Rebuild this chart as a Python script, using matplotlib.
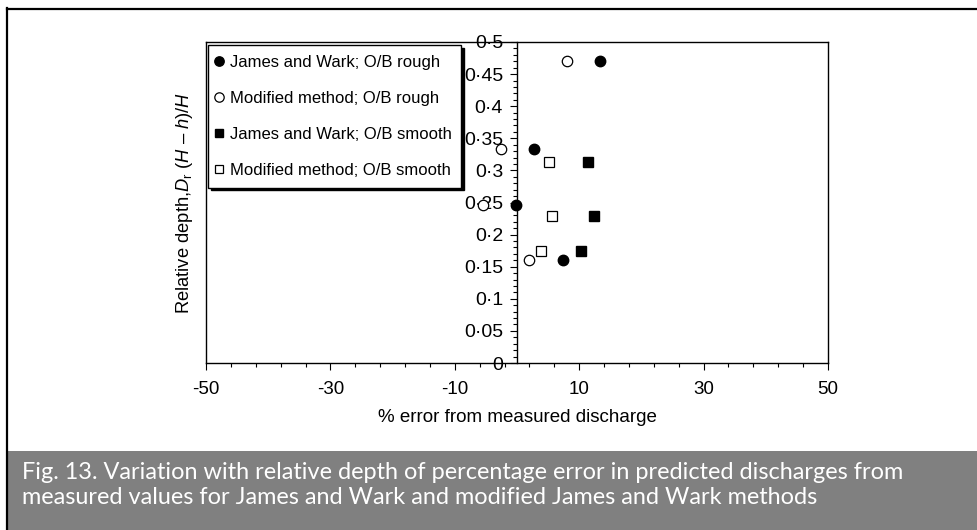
from __future__ import annotations

import matplotlib

matplotlib.use("Agg")

import matplotlib.pyplot as plt
from matplotlib.patches import Rectangle
from matplotlib.ticker import FixedLocator, MultipleLocator

# data
jw_rough_x = [13.4, 2.8, -0.2, 7.4]
jw_rough_y = [0.470, 0.333, 0.246, 0.161]
mod_rough_x = [8.0, -2.5, -5.4, 2.0]
mod_rough_y = [0.470, 0.333, 0.246, 0.161]
jw_smooth_x = [11.4, 12.3, 10.3]
jw_smooth_y = [0.313, 0.229, 0.175]
mod_smooth_x = [5.1, 5.7, 3.9]
mod_smooth_y = [0.313, 0.229, 0.175]

x_ticks = [-50, -30, -10, 10, 30, 50]
x_tick_labels = ["-50", "-30", "-10", "10", "30", "50"]
y_ticks = [0, 0.05, 0.1, 0.15, 0.2, 0.25, 0.3, 0.35, 0.4, 0.45, 0.5]
y_tick_labels = ["0", "0·05", "0·1", "0·15", "0·2", "0·25", "0·3", "0·35",
                 "0·4", "0·45", "0·5"]

caption = ("Fig. 13. Variation with relative depth of percentage error in predicted discharges from\n"
           "measured values for James and Wark and modified James and Wark methods")

plt.rcParams["font.family"] = ["Liberation Sans", "DejaVu Sans"]
plt.rcParams["mathtext.fontset"] = "custom"
plt.rcParams["mathtext.rm"] = "Liberation Sans"
plt.rcParams["mathtext.it"] = "Liberation Sans:italic"

W, H = 977, 530
fig = plt.figure(figsize=(W / 100, H / 100), dpi=100)

# frame lines of the page (left and top only) and caption band
fig.add_artist(plt.Line2D([7 / W, 7 / W], [0, 1 - 8 / H], color="black", lw=1.6,
                          transform=fig.transFigure))
fig.add_artist(plt.Line2D([7 / W, 1], [1 - 9 / H, 1 - 9 / H], color="black", lw=1.6,
                          transform=fig.transFigure))
fig.add_artist(Rectangle((8 / W, 0), 1, 79 / H, transform=fig.transFigure,
                         facecolor="#808080", edgecolor="none"))
fig.text(22 / W, 1 - 462 / H, caption, color="white", fontsize=16.9,
         family=["Lato", "DejaVu Sans"], va="top", ha="left", linespacing=1.23)

ax = fig.add_axes([206 / W, 1 - 363 / H, 622 / W, 321 / H])

ms = 7.5
ax.plot(jw_rough_x, jw_rough_y, "o", color="black", ms=ms, mec="black",
        label="James and Wark; O/B rough", clip_on=False, zorder=3)
ax.plot(mod_rough_x, mod_rough_y, "o", mfc="white", mec="black", mew=0.9, ms=ms,
        label="Modified method; O/B rough", clip_on=False, zorder=3)
ax.plot(jw_smooth_x, jw_smooth_y, "s", color="black", ms=ms - 0.5,
        label="James and Wark; O/B smooth", clip_on=False, zorder=3)
ax.plot(mod_smooth_x, mod_smooth_y, "s", mfc="white", mec="black", mew=0.9, ms=ms - 0.5,
        label="Modified method; O/B smooth", clip_on=False, zorder=3)

ax.set_xlim(-50, 50)
ax.set_ylim(0, 0.5)

# y axis line sits at x = 0, the box keeps its left edge at -50
ax.spines["left"].set_position(("data", 0))
ax.axvline(-50, color="black", lw=1.0, clip_on=False)
for side in ("top", "right", "bottom", "left"):
    ax.spines[side].set_linewidth(1.0)

ax.xaxis.set_major_locator(FixedLocator(x_ticks))
ax.set_xticklabels(x_tick_labels)
ax.xaxis.set_minor_locator(MultipleLocator(4, offset=2))
ax.yaxis.set_major_locator(FixedLocator(y_ticks))
ax.set_yticklabels(y_tick_labels)
ax.yaxis.set_minor_locator(MultipleLocator(0.01))

ax.tick_params(axis="x", which="major", direction="out", length=5, width=0.8,
               labelsize=13.5, pad=8)
ax.tick_params(axis="x", which="minor", direction="out", length=3, width=0.8)
ax.tick_params(axis="y", which="major", direction="out", length=5, width=0.8,
               labelsize=14, pad=5)
ax.tick_params(axis="y", which="minor", direction="out", length=3, width=0.8)

ax.set_xlabel("% error from measured discharge", fontsize=13.5, labelpad=8)
ax.set_ylabel(r"Relative depth,$\mathit{D}_\mathrm{r}$ ($\mathit{H}$ – $\mathit{h}$)/$\mathit{H}$",
              fontsize=13.2)
ax.yaxis.set_label_coords(-0.017, 0.5)

ax.legend(loc="upper left", bbox_to_anchor=(0.003, 0.99), borderaxespad=0,
          frameon=True, fancybox=False, edgecolor="black", framealpha=1,
          shadow={"color": "black", "alpha": 1}, fontsize=12.0,
          handlelength=0.15, handletextpad=0.55, labelspacing=1.25,
          borderpad=0.6, markerscale=0.9)

fig.savefig("out.png", dpi=100)
